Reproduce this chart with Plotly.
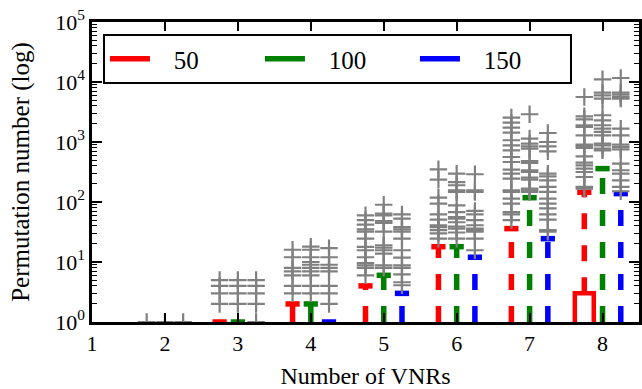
import plotly.graph_objects as go

# ---------------- data ----------------
groups = [1, 2, 3, 4, 5, 6, 7, 8]
series_names = ["50", "100", "150"]
offsets = [-0.25, 0.0, 0.25]
colors = ["#ff0000", "#008000", "#0000ff"]

# upper whisker (cap) values per group; None = not drawn
cap_50 = [None, None, 1, 2, 4, 18, 36, 145]
cap_100 = [None, None, 1, 2, 6, 18, 118, 360]
cap_150 = [None, None, None, 1, 3, 12, 24.5, 138]

# box top (Q3) per group; box bottom (Q1) lies below the visible range
q3_50 = [None, None, 1, 1, 1, 1, 1, 3]
q3_100 = [None, None, 1, 1, 1, 1, 1, 1]
q3_150 = [None, None, None, 1, 1, 1, 1, 1]

fliers_50 = [
    [],
    [1],
    [2, 3, 4, 5],
    [3, 4, 6, 7, 8, 12, 16],
    [6, 8, 8.8, 9.6, 12, 15.7, 17.8, 24.5, 32, 35, 42, 50, 60],
    [24.5, 30, 34, 38, 41, 51, 62, 94, 118, 236, 351],
    [50, 62, 68, 94, 114, 147, 157, 245, 297, 347, 464, 562, 727, 880, 1070, 1435, 1740, 2100, 2550],
    [167, 178, 261, 316, 360, 409, 454, 578, 794, 857, 905, 1290, 1780, 1900, 2390, 2680, 5620],
]
fliers_100 = [
    [],
    [1],
    [2, 3, 4, 5],
    [3, 4, 6, 7, 8, 9, 10, 12, 16, 18],
    [8, 8.8, 13.8, 15.7, 17.4, 19, 32, 45, 48, 60, 64, 90],
    [24.5, 31, 36, 39, 46, 53, 56, 68, 88, 147, 157, 190, 215, 297],
    [147, 157, 167, 236, 255, 316, 338, 447, 482, 776, 848, 940, 1140, 2900],
    [727, 776, 880, 940, 1290, 1470, 1670, 1900, 2300, 2790, 5290, 6000, 6650, 11100],
]
fliers_150 = [
    [],
    [1],
    [1, 2, 3, 4, 5],
    [2, 3, 4, 7, 8, 9, 12, 17],
    [4.1, 4.6, 6.2, 8, 8.8, 11.8, 15.7, 24.5, 32, 35, 38, 53, 62],
    [15.7, 24.5, 32, 34, 36, 41, 50, 62, 71, 147, 157, 290],
    [32, 34, 51, 62, 78, 94, 114, 147, 178, 230, 268, 297, 700, 848, 1000, 1413],
    [151, 178, 230, 297, 338, 436, 755, 826, 905, 1290, 1670, 5290, 5620, 6170, 6650, 11650],
]

y_tick_vals = [1, 10, 100, 1000, 10000, 100000]
y_tick_text = ["10<sup>0</sup>", "10<sup>1</sup>", "10<sup>2</sup>", "10<sup>3</sup>",
               "10<sup>4</sup>", "10<sup>5</sup>"]

caps = [cap_50, cap_100, cap_150]
q3s = [q3_50, q3_100, q3_150]
fliers = [fliers_50, fliers_100, fliers_150]

CAP_HALF = 0.0975
BOX_HALF = 0.13
Y_FLOOR = 0.5  # below the visible range (axis starts at 1)
FONT = "Liberation Serif"
NB = "\u00a0"

fig = go.Figure()

for s in range(3):
    col = colors[s]
    off = offsets[s]
    # whiskers (dashed), one trace per whisker so the dash pattern starts at the box
    for i, g in enumerate(groups):
        c = caps[s][i]
        q3 = q3s[s][i]
        if c is None or q3 is None or c <= q3:
            continue
        fig.add_trace(go.Scatter(
            x=[g + off, g + off], y=[q3, c], mode="lines",
            line=dict(color=col, width=5.5, dash="16px,16px"),
            showlegend=False, hoverinfo="skip"))
    # boxes (only visible where Q3 > 1)
    for i, g in enumerate(groups):
        q3 = q3s[s][i]
        if q3 is None or q3 <= 1:
            continue
        fig.add_trace(go.Scatter(
            x=[g + off - BOX_HALF, g + off - BOX_HALF, g + off + BOX_HALF, g + off + BOX_HALF],
            y=[Y_FLOOR, q3, q3, Y_FLOOR], mode="lines",
            line=dict(color=col, width=4.5),
            showlegend=False, hoverinfo="skip"))
    # caps (solid) - also serve as legend entries
    cx, cy = [], []
    for i, g in enumerate(groups):
        c = caps[s][i]
        if c is None:
            continue
        cx += [g + off - CAP_HALF, g + off + CAP_HALF, None]
        cy += [c, c, None]
    fig.add_trace(go.Scatter(
        x=cx, y=cy, mode="lines", name=NB * 3 + series_names[s],
        line=dict(color=col, width=5.5),
        showlegend=True, hoverinfo="skip"))
    # fliers
    fx, fy = [], []
    for i, g in enumerate(groups):
        for v in fliers[s][i]:
            fx.append(g + off)
            fy.append(v)
    fig.add_trace(go.Scatter(
        x=fx, y=fy, mode="markers",
        marker=dict(symbol="cross-thin", size=12.5, color="#808080",
                    line=dict(color="#808080", width=2.2)),
        showlegend=False, hoverinfo="skip"))

fig.update_layout(
    width=642, height=389,
    margin=dict(l=92, r=0, t=22, b=67, pad=0),
    paper_bgcolor="white", plot_bgcolor="white",
    font=dict(family=FONT, color="black", size=22),
    legend=dict(
        orientation="h", x=0.02, y=0.96, xanchor="left", yanchor="top",
        bordercolor="black", borderwidth=2, bgcolor="white",
        font=dict(family=FONT, size=25, color="black"),
        itemwidth=40, entrywidth=100, entrywidthmode="pixels",
    ),
    xaxis=dict(
        range=[1, 8.5], tickmode="array", tickvals=groups,
        ticktext=[str(g) for g in groups],
        ticks="inside", ticklen=9, tickwidth=1.5, tickcolor="black",
        showline=True, linewidth=2.5, linecolor="black", mirror="ticks",
        showgrid=False, zeroline=False,
        tickfont=dict(family=FONT, size=22),
        title=dict(text="Number of VNRs", font=dict(family=FONT, size=24), standoff=14),
    ),
    yaxis=dict(
        type="log", range=[0, 5], tickmode="array", tickvals=y_tick_vals, ticktext=y_tick_text,
        ticks="inside", ticklen=10, tickwidth=1.5, tickcolor="black",
        minor=dict(ticks="inside", ticklen=5, tickwidth=1.2, tickcolor="black", dtick="D1", showgrid=False),
        showline=True, linewidth=2.5, linecolor="black", mirror="ticks",
        showgrid=False, zeroline=False,
        tickfont=dict(family=FONT, size=22),
        title=dict(text="Permutation number (log)", font=dict(family=FONT, size=25), standoff=19),
    ),
)

fig.write_html("out.html")
